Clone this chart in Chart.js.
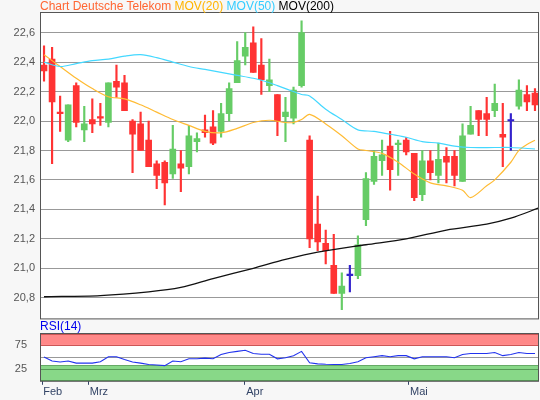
<!DOCTYPE html>
<html>
<head>
<meta charset="utf-8">
<script src="https://cdn.jsdelivr.net/npm/chart.js@4"></script>
<style>
body { margin:0; background:#f7f7f7; font-family:"Liberation Sans", Arial, sans-serif; }
#wrap { position:relative; width:540px; height:400px; }
#titel { position:absolute; left:40px; top:-1px; font-size:12px; white-space:nowrap; }
#rsiTitel { position:absolute; left:40px; top:319px; font-size:12px; color:#0000ee; }
canvas { position:absolute; left:0; }
</style>
</head>
<body>
<div id="wrap">
	<canvas id="haupt" width="540" height="330" style="top:0"></canvas>
	<canvas id="rsi" width="540" height="80" style="top:320px"></canvas>
	<div id="titel"><span style="color:#ff6633">Chart Deutsche Telekom</span> <span style="color:#ffb400">MOV(20)</span> <span style="color:#33ccff">MOV(50)</span> <span style="color:#000">MOV(200)</span></div>
	<div id="rsiTitel">RSI(14)</div>
</div>
<script>
// Kerzen: open, close, high, low
const opens  = [22.38,22.42,22.06,21.87,22.24,21.94,22.01,22.03,21.99,22.27,22.26,22.00,21.98,21.87,21.71,21.72,21.64,21.71,21.69,21.86,21.94,21.96,21.93,22.05,22.26,22.44,22.53,22.38,22.24,22.18,22.03,22.02,22.24,21.87,21.30,21.17,21.02,20.83,20.95,20.95,21.33,21.59,21.73,21.83,21.84,21.87,21.78,21.50,21.73,21.63,21.76,21.76,21.59,21.91,22.07,22.05,22.07,21.91,22.00,22.10,22.18,22.19]
const closes = [22.34,22.13,22.05,22.11,21.99,21.98,21.98,22.02,22.26,22.23,22.07,21.91,21.80,21.69,21.63,21.58,21.81,21.68,21.90,21.88,21.92,21.85,22.05,22.22,22.41,22.50,22.33,22.28,22.28,22.00,22.06,22.21,22.60,21.20,21.18,21.12,20.83,20.88,20.95,21.16,21.61,21.76,21.77,21.67,21.85,21.79,21.48,21.73,21.65,21.74,21.72,21.63,21.90,21.97,22.01,22.01,22.12,21.89,22.00,22.21,22.13,22.11]
const highs  = [22.51,22.50,22.17,22.11,22.26,22.10,22.15,22.12,22.26,22.38,22.31,22.01,22.06,22.00,21.73,21.73,21.97,21.80,21.97,21.92,22.04,22.07,22.12,22.26,22.54,22.60,22.64,22.56,22.42,22.18,22.16,22.23,22.68,21.90,21.49,21.26,21.23,20.97,21.02,21.22,21.65,21.80,21.87,21.93,21.87,21.89,21.78,21.80,21.80,21.85,21.82,21.80,21.98,22.10,22.07,22.16,22.25,22.12,22.05,22.28,22.24,22.22]
const lows   = [22.27,21.71,21.93,21.86,21.96,21.86,21.92,21.97,21.96,22.16,22.07,21.65,21.80,21.69,21.54,21.43,21.61,21.52,21.64,21.79,21.89,21.84,21.89,22.00,22.26,22.38,22.33,22.18,22.20,21.90,21.86,21.98,22.23,21.14,21.12,21.03,20.83,20.72,20.84,20.93,21.29,21.57,21.63,21.53,21.63,21.77,21.46,21.46,21.60,21.58,21.58,21.56,21.59,21.91,21.90,21.90,22.03,21.69,21.80,22.08,22.07,22.07]
const dojiIdx = [38, 58]

// gleitende Durchschnitte [index, wert]
const mov20 = [[0,22.45],[2,22.37],[4,22.29],[6,22.22],[8,22.165],[10,22.15],[12,22.11],[14,22.06],[16,22.01],[18,21.97],[20,21.93],[22,21.92],[24,21.95],[26,21.99],[28,22.005],[30,21.99],[31,21.99],[32,22.01],[33,22.045],[35,21.98],[37,21.90],[39,21.81],[40,21.80],[42,21.78],[44,21.72],[46,21.64],[48,21.58],[50,21.56],[52,21.53],[53,21.48],[55,21.56],[56,21.60],[58,21.72],[59,21.80],[60,21.84],[61,21.87]]
const mov50 = [[0,22.40],[2,22.37],[4,22.39],[6,22.41],[8,22.42],[10,22.44],[12,22.45],[14,22.43],[16,22.40],[18,22.37],[20,22.35],[22,22.33],[24,22.31],[26,22.29],[28,22.26],[29,22.24],[30,22.22],[32,22.18],[33,22.17],[35,22.08],[37,22.01],[39,21.94],[41,21.93],[43,21.91],[45,21.89],[47,21.86],[49,21.85],[51,21.83],[53,21.82],[56,21.82],[58,21.82],[61,21.81]]
const mov200 = [[0,20.807],[7,20.815],[13,20.84],[17,20.87],[21,20.93],[26,21.0],[30,21.06],[34,21.11],[40,21.16],[45,21.20],[50,21.26],[55,21.30],[58,21.34],[61.5,21.41]]

const rsiWerte = [49.6,41.4,39.2,41.4,37,37,37,40,50.4,50.4,44.4,39.2,37,34,33.2,31.7,41.4,40,46,46,47.4,46,55,59.3,61.6,63.8,57,55.6,55.6,46,48.1,52.6,61.6,37.7,35.5,34.5,34,34,36.2,40,48.1,50.4,52.6,50.4,52.6,52.6,46,50.4,50.4,50.4,50.4,48.1,55,57,57,57,59.3,52.6,55,59.3,57,57]

const yTicks = [20.8,21.0,21.2,21.4,21.6,21.8,22.0,22.2,22.4,22.6]
const monate = [['Feb',-0.16],['Mrz',5.58],['Apr',24.94],['Mai',45.33]]

const GRUEN = '#66cc66', ROT = '#ff3333', BLAU = '#3322cc'
const farben = opens.map((o, i) => dojiIdx.includes(i) ? BLAU : (closes[i] >= o ? GRUEN : ROT))

const rahmen = {
	id: 'rahmen',
	beforeDraw(c) {
		const a = c.chartArea
		c.ctx.save()
		c.ctx.fillStyle = '#fff'
		c.ctx.fillRect(a.left, a.top, a.right - a.left, a.bottom - a.top)
		c.ctx.restore()
	},
	afterDraw(c) {
		const a = c.chartArea
		c.ctx.save()
		c.ctx.strokeStyle = '#555'
		c.ctx.lineWidth = 1
		c.ctx.strokeRect(a.left + 0.5, a.top + 0.5, a.right - a.left - 1, a.bottom - a.top)
		c.ctx.restore()
	}
}

const xBasis = { type: 'linear', min: -0.5, max: 61.5, offset: false }
const fixBreite = s => { s.width = 40 }

new Chart(document.getElementById('haupt'), {
	type: 'bar',
	data: {
		datasets: [
			{ type: 'line', data: mov200.map(p => ({x:p[0], y:p[1]})), borderColor: '#111', borderWidth: 1.3, pointRadius: 0, tension: 0.3, order: 0 },
			{ type: 'line', data: mov50.map(p => ({x:p[0], y:p[1]})), borderColor: '#44d8ff', borderWidth: 1.2, pointRadius: 0, tension: 0.3, order: 0 },
			{ type: 'line', data: mov20.map(p => ({x:p[0], y:p[1]})), borderColor: '#ffbb33', borderWidth: 1.2, pointRadius: 0, tension: 0.3, order: 0 },
			{ data: opens.map((o, i) => ({x:i, y:[o, closes[i]]})), backgroundColor: farben, barThickness: 6, grouped: false, minBarLength: 1.5, order: 1 },
			{ data: lows.map((l, i) => ({x:i, y:[l, highs[i]]})), backgroundColor: farben, barThickness: 1.5, grouped: false, order: 2 }
		]
	},
	options: {
		responsive: false, animation: false,
		layout: { padding: { top: 12, right: 1, bottom: 1, left: 0 } },
		plugins: { legend: { display: false }, tooltip: { enabled: false } },
		scales: {
			x: { ...xBasis, display: false },
			y: {
				min: 20.66, max: 22.74,
				afterFit: fixBreite,
				afterBuildTicks: s => { s.ticks = yTicks.map(v => ({value: v})) },
				grid: { color: '#999', drawTicks: false },
				border: { display: false },
				ticks: { color: '#555', padding: 5, font: { size: 11, family: 'Liberation Sans' }, callback: v => v.toFixed(1).replace('.', ',') }
			}
		}
	},
	plugins: [rahmen]
})

const rsiBaender = {
	id: 'rsiBaender',
	beforeDatasetsDraw(c) {
		const a = c.chartArea, y = c.scales.y, ctx = c.ctx
		ctx.save()
		ctx.fillStyle = '#ff8888'
		ctx.fillRect(a.left, y.getPixelForValue(98), a.right - a.left, y.getPixelForValue(75) - y.getPixelForValue(98))
		ctx.fillStyle = '#88d888'
		ctx.fillRect(a.left, y.getPixelForValue(33), a.right - a.left, y.getPixelForValue(1) - y.getPixelForValue(33))
		const linie = (v, f) => {
			const py = Math.round(y.getPixelForValue(v)) + 0.5
			ctx.strokeStyle = f
			ctx.beginPath(); ctx.moveTo(a.left, py); ctx.lineTo(a.right, py); ctx.stroke()
		}
		linie(98, '#cc5555'); linie(75, '#cc5555'); linie(50, '#999')
		linie(33, '#66aa66'); linie(25, '#559955'); linie(1, '#559955')
		ctx.restore()
	}
}

new Chart(document.getElementById('rsi'), {
	type: 'line',
	data: {
		datasets: [{ data: rsiWerte.map((v, i) => ({x:i, y:v})), borderColor: '#2233ee', borderWidth: 1.1, pointRadius: 0, tension: 0 }]
	},
	options: {
		responsive: false, animation: false,
		layout: { padding: { top: 13, right: 1, bottom: 0, left: 0 } },
		plugins: { legend: { display: false }, tooltip: { enabled: false } },
		scales: {
			x: {
				...xBasis,
				afterBuildTicks: s => { s.ticks = monate.map(m => ({value: m[1]})) },
				grid: { drawOnChartArea: false, color: '#334466', tickLength: 4 },
				border: { display: false },
				ticks: { color: '#334466', padding: 1, labelOffset: 10, maxRotation: 0, autoSkip: false, font: { size: 11, family: 'Liberation Sans' }, callback: (v, i) => monate[i][0] }
			},
			y: {
				min: 0, max: 100,
				afterFit: fixBreite,
				afterBuildTicks: s => { s.ticks = [{value: 25}, {value: 75}] },
				grid: { display: false },
				border: { display: false },
				ticks: { color: '#555', padding: 5, font: { size: 11, family: 'Liberation Sans' } }
			}
		}
	},
	plugins: [rahmen, rsiBaender]
})
</script>
</body>
</html>
